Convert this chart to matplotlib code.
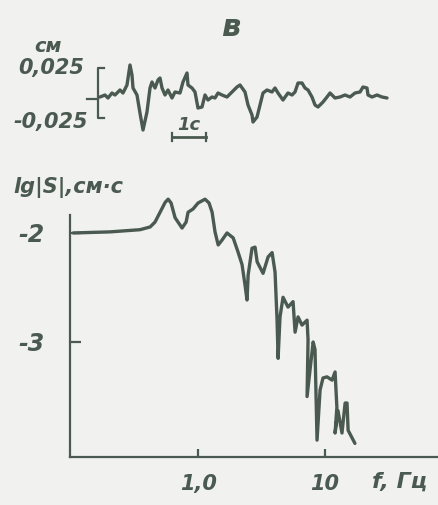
import matplotlib
matplotlib.use("Agg")
import matplotlib.pyplot as plt
from matplotlib.ticker import NullLocator

# record of displacement (upper trace), t in s, x in cm
trace_t = [0.00, 0.147, 0.235, 0.353, 0.441, 0.588, 0.676, 0.794, 0.882, 0.941,
           0.971, 1.088, 1.176, 1.265, 1.382, 1.471, 1.529, 1.618, 1.706, 1.765,
           1.824, 1.912, 2.000, 2.118, 2.206, 2.353, 2.441, 2.559, 2.588, 2.706,
           2.794, 2.882, 3.000, 3.088, 3.176, 3.294, 3.382, 3.471, 3.588, 3.735,
           3.882, 4.029, 4.118, 4.265, 4.353, 4.471, 4.500, 4.618, 4.706, 4.794,
           4.912, 5.059, 5.147, 5.235, 5.382, 5.529, 5.647, 5.735, 5.824, 5.941,
           6.029, 6.118, 6.235, 6.324, 6.412, 6.559, 6.676, 6.765, 6.912, 7.059,
           7.206, 7.353, 7.500, 7.647, 7.735, 7.853, 7.882, 8.000, 8.147, 8.294,
           8.441]
trace_x = [-0.004, -0.002, -0.005, 0.000, -0.002, 0.003, 0.000, 0.008, 0.028, 0.018,
           0.005, -0.002, -0.020, -0.037, -0.019, 0.005, 0.011, 0.005, 0.013, 0.015,
           0.005, -0.002, 0.003, -0.005, 0.001, 0.000, 0.011, 0.020, 0.008, 0.005,
           0.001, -0.015, -0.014, -0.002, -0.007, -0.004, -0.005, 0.000, -0.002, -0.004,
           0.001, 0.006, 0.008, 0.001, -0.012, -0.022, -0.029, -0.024, -0.012, 0.000,
           0.003, 0.001, 0.005, 0.000, -0.007, 0.000, -0.002, 0.001, 0.010, 0.010,
           0.005, 0.003, -0.004, -0.012, -0.014, -0.009, -0.004, 0.000, -0.005, -0.004,
           -0.002, -0.004, 0.000, 0.001, 0.006, 0.005, -0.002, -0.004, -0.002, -0.004,
           -0.005]

# amplitude spectrum, f in Hz, lg|S| in lg(cm*s)
spec_f = [0.104, 0.203, 0.349, 0.419, 0.458, 0.502, 0.550, 0.581, 0.613, 0.659,
          0.748, 0.805, 0.834, 0.913, 1.0, 1.135, 1.22, 1.29, 1.36, 1.44,
          1.545, 1.69, 1.89, 2.065, 2.22, 2.345, 2.43, 2.48, 2.66, 2.81,
          2.92, 3.25, 3.56, 3.83, 4.04, 4.19, 4.27, 4.42, 4.67, 5.11,
          5.60, 5.81, 6.13, 6.59, 7.22, 7.35, 7.22, 8.06, 8.34, 8.65,
          9.14, 9.64, 10.37, 11.36, 12.0, 12.4, 12.0, 12.65, 13.6, 14.4,
          14.9, 15.2, 17.2]
spec_lg = [-2.00, -1.99, -1.97, -1.945, -1.90, -1.81, -1.72, -1.69, -1.725, -1.86,
           -1.955, -1.90, -1.81, -1.78, -1.725, -1.69, -1.725, -1.81, -1.99, -2.11,
           -2.065, -2.00, -2.045, -2.175, -2.29, -2.48, -2.615, -2.385, -2.14, -2.13,
           -2.265, -2.37, -2.22, -2.18, -2.36, -2.80, -3.15, -2.77, -2.59, -2.68,
           -2.63, -2.91, -2.77, -2.845, -2.80, -2.98, -3.50, -3.00, -3.07, -3.90,
           -3.44, -3.33, -3.32, -3.35, -3.275, -3.60, -3.835, -3.63, -3.835, -3.56,
           -3.56, -3.81, -3.93]

ink = '#4a5a50'
bg = '#f1f1ef'
W, H = 438, 505


def px(x, y):
    return x / W, 1 - y / H


fig = plt.figure(figsize=(4.38, 5.05), dpi=100, facecolor=bg)
txt = dict(color=ink, style='italic', family='DejaVu Sans', weight='bold')

# ---- upper trace ----
ax1 = fig.add_axes([85 / W, 1 - 145 / H, 310 / W, 90 / H])
ax1.set_facecolor(bg)
ax1.set_xlim(-0.441, 8.676)
ax1.set_ylim(-0.052, 0.038)
ax1.axis('off')
ax1.plot(trace_t, trace_x, color=ink, lw=2.4, solid_joinstyle='round',
         solid_capstyle='round')
# amplitude bracket
ax1.plot([0.12, -0.06, -0.06, 0.12], [0.025, 0.025, -0.025, -0.025], color=ink, lw=1.6)
ax1.plot([-0.38, -0.06], [-0.006, -0.006], color=ink, lw=1.6)
# 1 s bar
ax1.plot([2.12, 3.12], [-0.044, -0.044], color=ink, lw=2)
ax1.plot([2.12, 2.12], [-0.048, -0.040], color=ink, lw=1.6)
ax1.plot([3.12, 3.12], [-0.048, -0.040], color=ink, lw=1.6)

fig.text(*px(231, 28), 'в', fontsize=22, ha='center', va='center', **txt)
fig.text(*px(48, 47), 'см', fontsize=14, ha='center', va='center', **txt)
fig.text(*px(84, 68), '0,025', fontsize=15, ha='right', va='center', **txt)
fig.text(*px(88, 122), '-0,025', fontsize=15, ha='right', va='center', **txt)
fig.text(*px(189, 125), '1c', fontsize=13, ha='center', va='center', **txt)

# ---- spectrum ----
ax2 = fig.add_axes([70 / W, 1 - 457 / H, 368 / W, 272 / H])
ax2.set_facecolor(bg)
ax2.set_xscale('log')
ax2.set_xlim(0.098, 77.6)
ax2.set_ylim(-4.055, -1.56)
ax2.plot(spec_f, spec_lg, color=ink, lw=2.4, solid_joinstyle='round',
         solid_capstyle='round')
for s in ['top', 'right']:
    ax2.spines[s].set_visible(False)
for s in ['left', 'bottom']:
    ax2.spines[s].set_color(ink)
    ax2.spines[s].set_linewidth(1.6)
ax2.spines['left'].set_bounds(-4.055, -1.835)
ax2.xaxis.set_minor_locator(NullLocator())
ax2.set_xticks([1, 10], ['1,0', '10'])
ax2.set_yticks([-2, -3], ['-2', '-3'])
ax2.tick_params(axis='x', direction='in', length=6, width=1.6, color=ink,
                labelcolor=ink, labelsize=15, pad=12)
ax2.tick_params(axis='y', direction='in', length=8, width=1.6, color=ink,
                labelcolor=ink, labelsize=17, pad=18)
for lab in ax2.get_xticklabels() + ax2.get_yticklabels():
    lab.set_style('italic')
    lab.set_weight('bold')

fig.text(*px(13, 187), 'lg|S|,см·с', fontsize=15, ha='left', va='center', **txt)
fig.text(*px(372, 482), 'f, Гц', fontsize=16, ha='left', va='center', **txt)

fig.savefig('out.png', dpi=100, facecolor=bg)
